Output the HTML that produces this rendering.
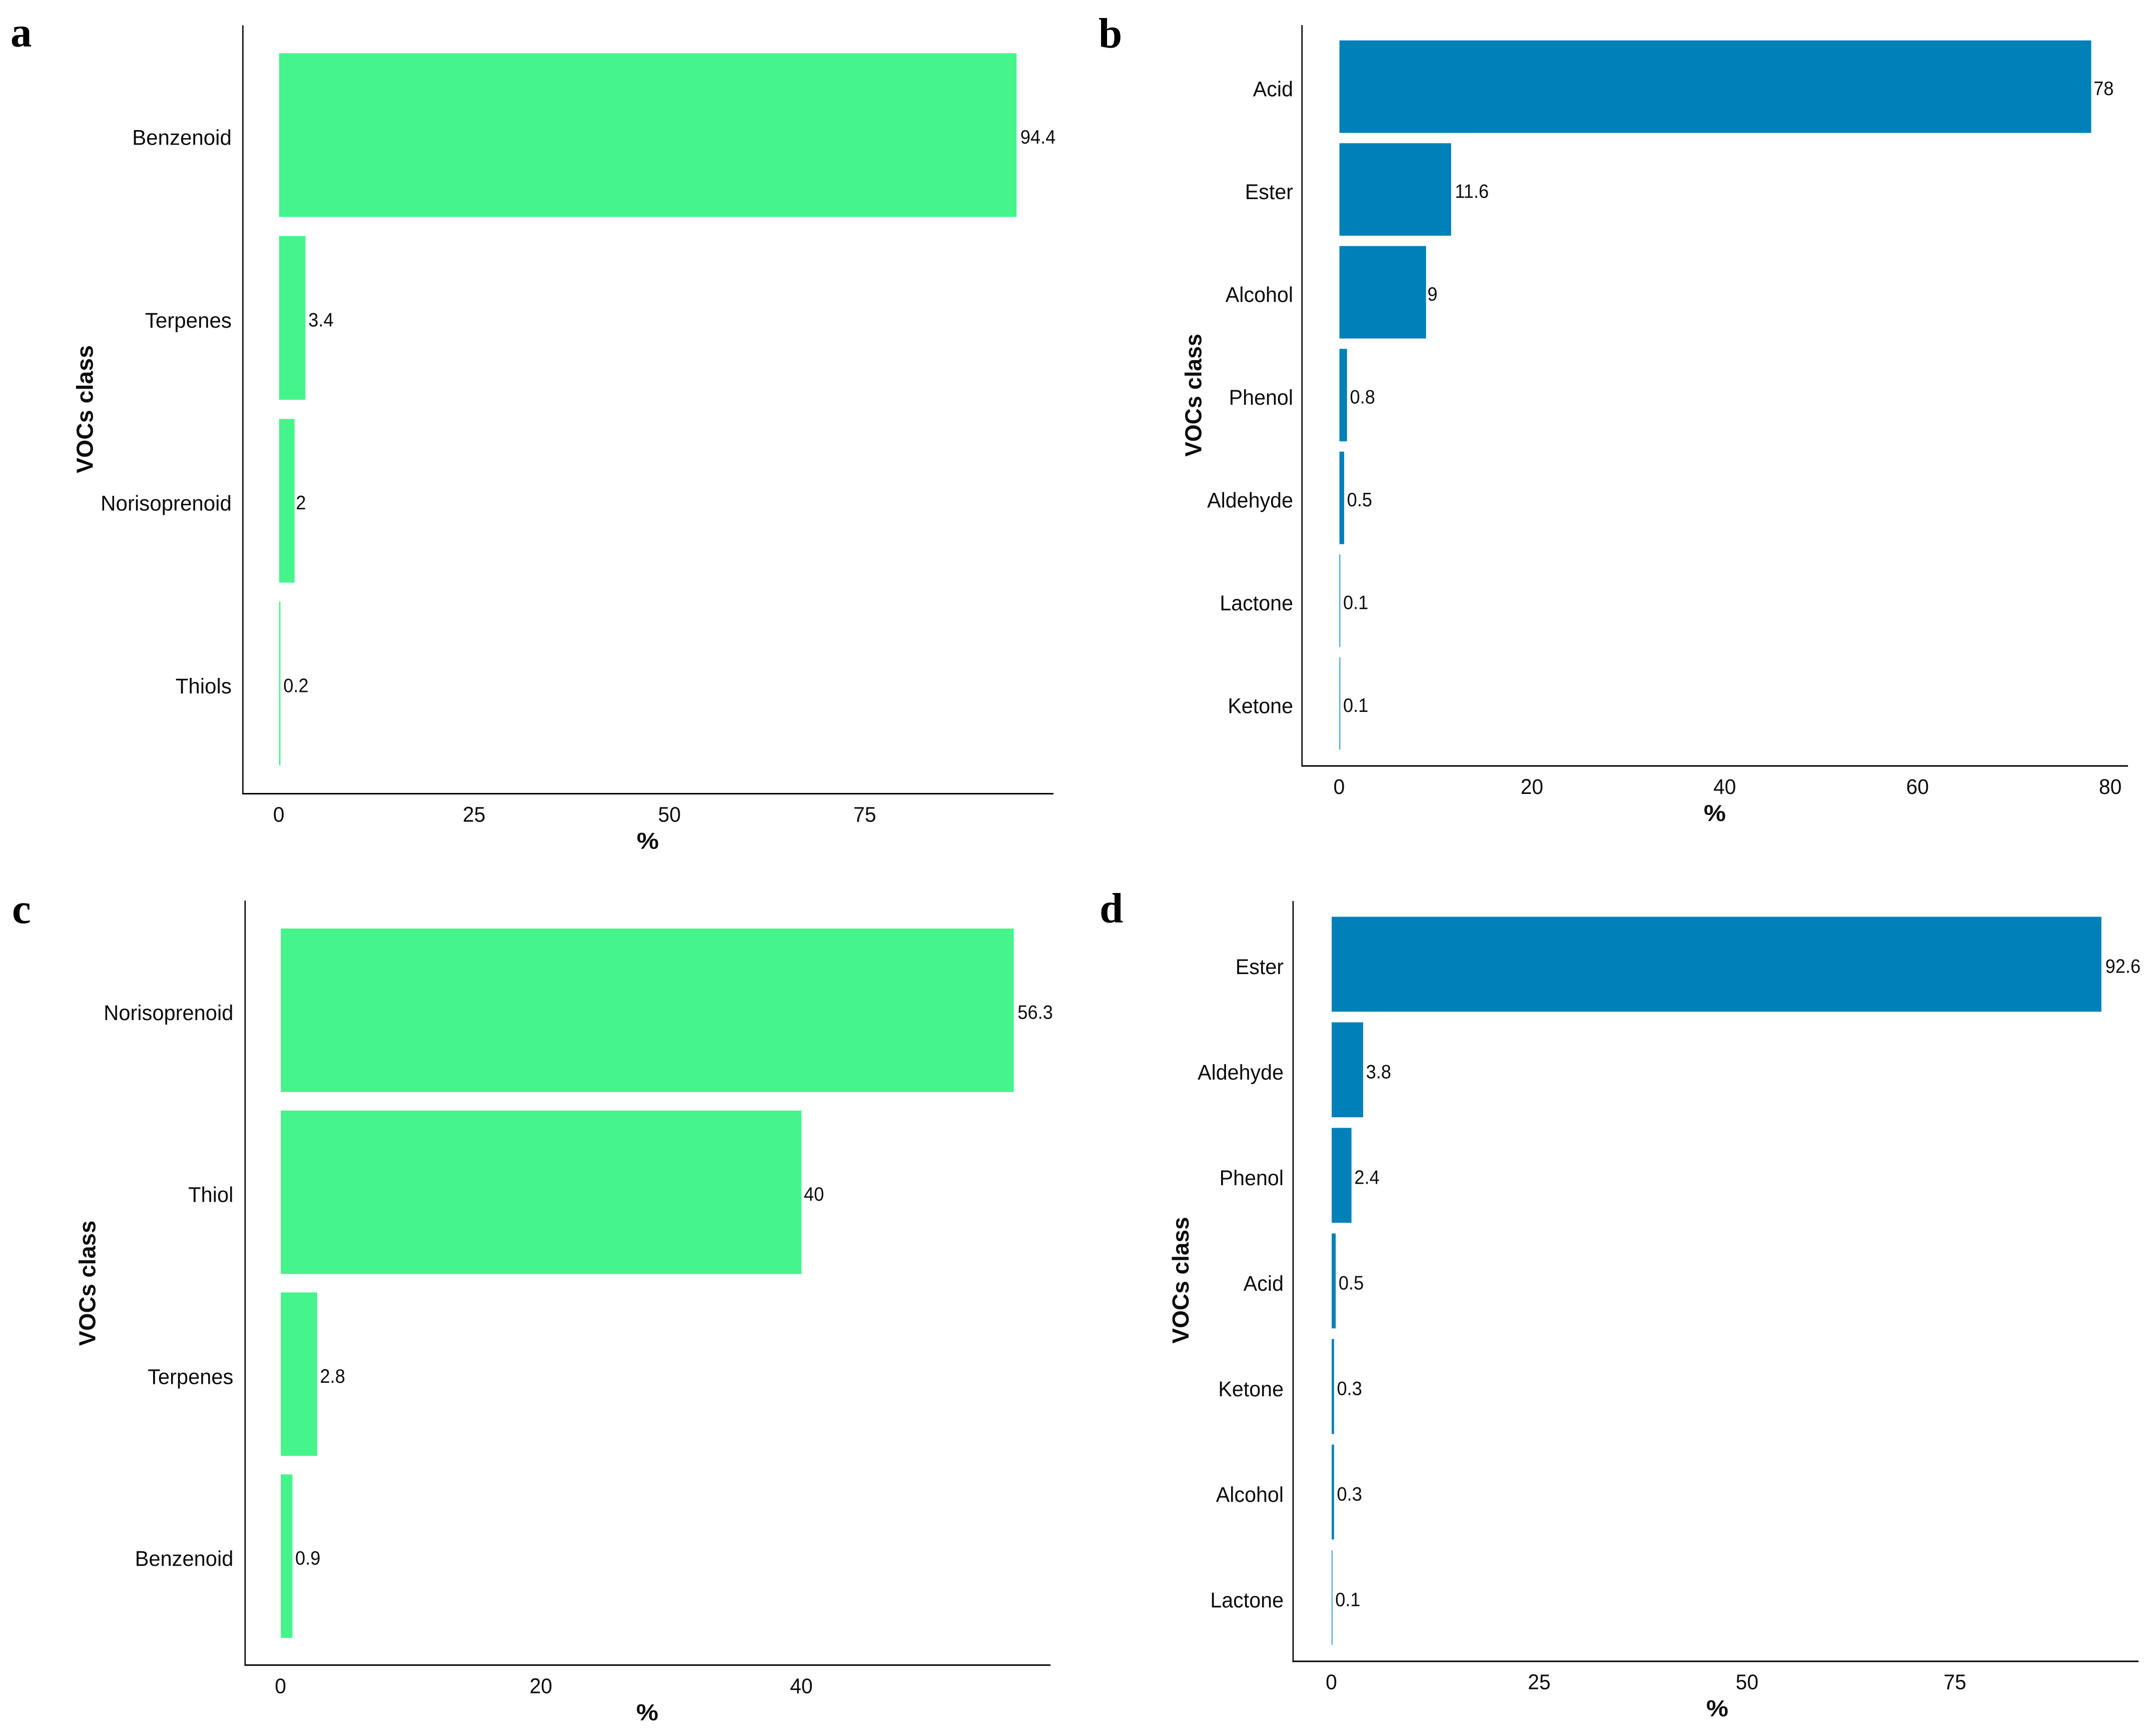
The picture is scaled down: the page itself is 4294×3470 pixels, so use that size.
<!DOCTYPE html>
<html lang="en">
<head>
<meta charset="utf-8">
<title>VOCs class composition by panel</title>
<style>
  html, body { margin: 0; padding: 0; background: #ffffff; }
  svg { display: block; }
  text { font-family: "Liberation Sans", sans-serif; fill: #0c0c0c; }
  .panel-letter { font-family: "Liberation Serif", serif; font-weight: 700; font-size: 85px; fill: #000; }
</style>
</head>
<body>
<svg id="figure" xmlns="http://www.w3.org/2000/svg" width="4294" height="3470" viewBox="0 0 4294 3470">
  <rect x="0" y="0" width="4294" height="3470" fill="#ffffff"/>
</svg>
<script>
// ---- Data ----
const categoriesA = ["Benzenoid", "Terpenes", "Norisoprenoid", "Thiols"];
const valuesA = [94.4, 3.4, 2, 0.2];
const ticksA = [0, 25, 50, 75];

const categoriesB = ["Acid", "Ester", "Alcohol", "Phenol", "Aldehyde", "Lactone", "Ketone"];
const valuesB = [78, 11.6, 9, 0.8, 0.5, 0.1, 0.1];
const ticksB = [0, 20, 40, 60, 80];

const categoriesC = ["Norisoprenoid", "Thiol", "Terpenes", "Benzenoid"];
const valuesC = [56.3, 40, 2.8, 0.9];
const ticksC = [0, 20, 40];

const categoriesD = ["Ester", "Aldehyde", "Phenol", "Acid", "Ketone", "Alcohol", "Lactone"];
const valuesD = [92.6, 3.8, 2.4, 0.5, 0.3, 0.3, 0.1];
const ticksD = [0, 25, 50, 75];

// ---- Panel layout ----
const GREEN = "#45f48b";
const BLUE = "#0080b8";
const panelA = { id: "a", categories: categoriesA, values: valuesA, ticks: ticksA, color: GREEN,
  axisX: 485.5, axisTop: 50.5, axisBottom: 1586.5, axisRight: 2106,
  zeroX: 557.7, unit: 15.62, barTop: 106.2, pitch: 365.5, barH: 327.5, labelSx: 0.99, titleSx: 1,
  labelEnd: 463, titleX: 185.5, titleY: 818, pctX: 1295, letterX: 21, letterY: 93 };
const panelB = { id: "b", categories: categoriesB, values: valuesB, ticks: ticksB, color: BLUE,
  axisX: 2602.8, axisTop: 50, axisBottom: 1531, axisRight: 4254,
  zeroX: 2677.5, unit: 19.27, barTop: 80.6, pitch: 205.5, barH: 185.2, labelSx: 0.97, titleSx: 0.96,
  labelEnd: 2585, titleX: 2401.5, titleY: 790, pctX: 3428, letterX: 2196, letterY: 95 };
const panelC = { id: "c", categories: categoriesC, values: valuesC, ticks: ticksC, color: GREEN,
  axisX: 490, axisTop: 1800, axisBottom: 3328.3, axisRight: 2100,
  zeroX: 561.2, unit: 26.03, barTop: 1855.9, pitch: 363.7, barH: 327, labelSx: 0.98, titleSx: 0.98,
  labelEnd: 466.5, titleX: 190.6, titleY: 2565, pctX: 1294, letterX: 24, letterY: 1845 };
const panelD = { id: "d", categories: categoriesD, values: valuesD, ticks: ticksD, color: BLUE,
  axisX: 2585, axisTop: 1801, axisBottom: 3320.7, axisRight: 4275,
  zeroX: 2662, unit: 16.62, barTop: 1832.4, pitch: 211, barH: 190, labelSx: 0.97, titleSx: 0.99,
  labelEnd: 2566, titleX: 2376, titleY: 2559, pctX: 3433, letterX: 2198, letterY: 1844 };

const NS = "http://www.w3.org/2000/svg";
const figure = document.getElementById("figure");

function makeText(parent, x, y, str, size, anchor, weight, sx, rotate) {
  const t = document.createElementNS(NS, "text");
  t.textContent = str;
  t.setAttribute("font-size", size);
  t.setAttribute("text-anchor", anchor);
  if (weight) t.setAttribute("font-weight", weight);
  let tf = "translate(" + x + " " + y + ")";
  if (rotate) tf += " rotate(" + rotate + ")";
  tf += " scale(" + sx + " 1)";
  t.setAttribute("transform", tf);
  parent.appendChild(t);
  return t;
}

function drawPanel(p) {
  const xScale = function (v) { return p.zeroX + v * p.unit; };
  const yScale = function (i) { return p.barTop + i * p.pitch; };

  const g = document.createElementNS(NS, "g");
  
  
  figure.appendChild(g);

  const letter = makeText(g, p.letterX, p.letterY, p.id, 85, "start", null, 1);
  letter.setAttribute("class", "panel-letter");
  
  

  p.values.forEach(function (v, i) {
    const y = yScale(i);
    const rect = document.createElementNS(NS, "rect");
    rect.setAttribute("x", xScale(0));
    rect.setAttribute("y", y);
    rect.setAttribute("width", xScale(v) - xScale(0));
    rect.setAttribute("height", p.barH);
    rect.setAttribute("fill", p.color);
    rect.setAttribute("stroke", "#ffffff");
    rect.setAttribute("stroke-width", "0.25");
    
    
    g.appendChild(rect);

    const cy = y + p.barH / 2;
    const label = makeText(g, p.labelEnd, cy + 19.5, p.categories[i], 42.5, "end", null, p.labelSx);
    
    

    const valueSx = 0.93;
    const val = makeText(g, xScale(v), cy + 17, String(v), 39, "start", null, valueSx);
    const offset = val.getComputedTextLength() * valueSx * 0.1 + 0.5;
    val.setAttribute("transform", "translate(" + (xScale(v) + offset) + " " + (cy + 17) + ") scale(" + valueSx + " 1)");
    
    
  });

  const yAxis = document.createElementNS(NS, "line");
  yAxis.setAttribute("x1", p.axisX);
  yAxis.setAttribute("x2", p.axisX);
  yAxis.setAttribute("y1", p.axisTop);
  yAxis.setAttribute("y2", p.axisBottom + 1.5);
  yAxis.setAttribute("stroke", "#000");
  yAxis.setAttribute("stroke-width", "2.6");
  
  
  g.appendChild(yAxis);

  const xAxis = document.createElementNS(NS, "line");
  xAxis.setAttribute("x1", p.axisX - 1.3);
  xAxis.setAttribute("x2", p.axisRight);
  xAxis.setAttribute("y1", p.axisBottom);
  xAxis.setAttribute("y2", p.axisBottom);
  xAxis.setAttribute("stroke", "#000");
  xAxis.setAttribute("stroke-width", "3");
  
  
  g.appendChild(xAxis);

  p.ticks.forEach(function (tick) {
    const t = makeText(g, xScale(tick) - 0.5, p.axisBottom + 56, String(tick), 43, "middle", null, 0.95);
    
    
  });

  const pct = makeText(g, p.pctX, p.axisBottom + 110, "%", 46, "middle", "700", 1.08);
  
  

  const yTitle = makeText(g, p.titleX, p.titleY, "VOCs class", 46.5, "middle", "700", p.titleSx, -90);
  
  
}

drawPanel(panelA);
drawPanel(panelB);
drawPanel(panelC);
drawPanel(panelD);
</script>
</body>
</html>
